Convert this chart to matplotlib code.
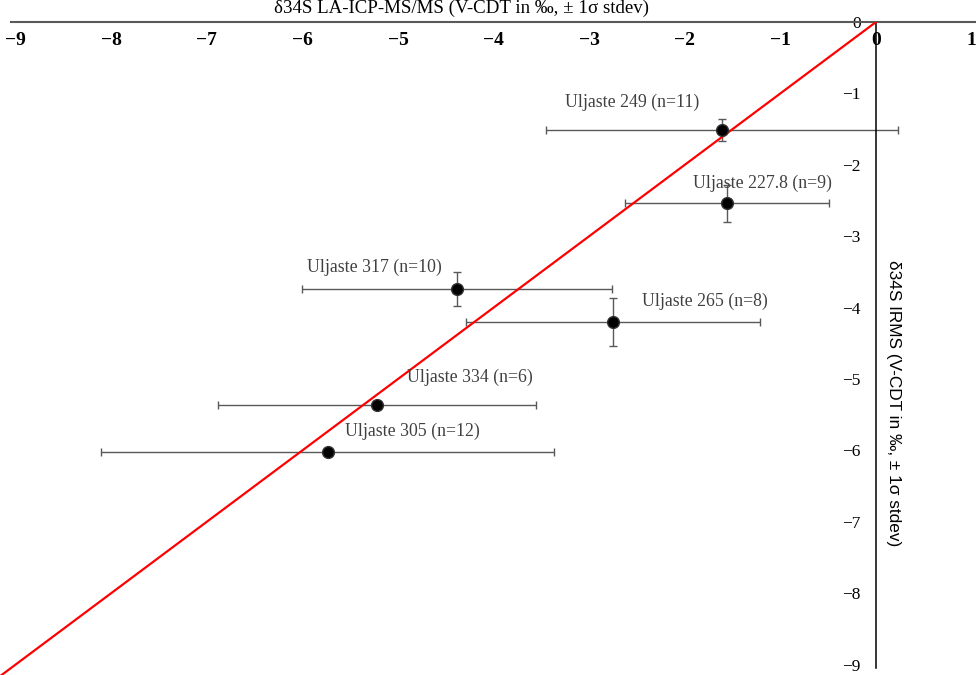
import matplotlib
matplotlib.use('Agg')
import matplotlib.pyplot as plt

# sample means and 1 sigma
samples = ["Uljaste 249 (n=11)", "Uljaste 227.8 (n=9)", "Uljaste 317 (n=10)",
           "Uljaste 265 (n=8)", "Uljaste 334 (n=6)", "Uljaste 305 (n=12)"]
la_icp = [-1.61, -1.56, -4.38, -2.75, -5.22, -5.735]
la_icp_sd = [1.84, 1.07, 1.62, 1.54, 1.66, 2.37]
irms = [-1.51, -2.54, -3.74, -4.20, -5.36, -6.02]
irms_sd = [0.15, 0.26, 0.24, 0.34, 0.0, 0.0]
one_to_one = [-10, 0]

xticks = list(range(-9, 2))
yticks = list(range(-9, 1))

# label offsets in pixels (dx, dy) from the point
label_off = [(-90, 27), (36, 20), (-83, 22), (92, 21), (93, 27), (85, 20)]

serif = 'Liberation Serif'

fig = plt.figure(figsize=(9.76, 6.75), dpi=100)
ax = fig.add_axes([0, 0, 1, 1 - 22 / 675])
ax.set_xlim(-9.163, 1.046)
ax.set_ylim(-9.146, 0)

ax.plot(one_to_one, one_to_one, color='#ff0000', lw=1.6, zorder=3)
ax.errorbar(la_icp, irms, xerr=la_icp_sd, yerr=irms_sd, fmt='none',
            ecolor='#595959', elinewidth=1, capsize=3, capthick=1, zorder=2)
ax.plot(la_icp, irms, 'o', color='black', markeredgecolor='#333333',
        markersize=8.5, zorder=4)

for name, x, y, (dx, dy) in zip(samples, la_icp, irms, label_off):
    ax.annotate(name, (x, y), xytext=(dx, dy), textcoords='offset pixels',
                ha='center', va='center', fontsize=12.8, family=serif,
                color='#404040', zorder=5)

# axes crossing at the origin
ax.spines['top'].set_visible(False)
ax.spines['right'].set_visible(False)
ax.spines['bottom'].set_position(('data', 0))
ax.spines['bottom'].set_bounds(-9.05, 1.046)
ax.spines['bottom'].set_color('#595959')
ax.spines['bottom'].set_linewidth(1.5)
ax.spines['left'].set_position(('data', 0))
ax.spines['left'].set_bounds(-9.05, 0)
ax.spines['left'].set_color('black')
ax.spines['left'].set_linewidth(1.1)

ax.set_xticks(xticks)
ax.set_yticks(yticks)
ax.set_xticklabels([str(t).replace('-', '\u2212') for t in xticks],
                   family=serif, fontsize=14, fontweight='bold')
ax.set_yticklabels([str(t).replace('-', '\u2212') for t in yticks],
                   family=serif, fontsize=12.5)
ax.tick_params(axis='x', length=0, pad=7)
ax.tick_params(axis='y', length=0, pad=11)

fig.text(461 / 976, 1 - 8 / 675, "\u03b434S LA-ICP-MS/MS (V-CDT in \u2030, \u00b1 1\u03c3 stdev)",
         ha='center', va='center', fontsize=13.6, family=serif)
fig.text(893 / 976, 1 - 403 / 675, "\u03b434S IRMS (V-CDT in \u2030, \u00b1 1\u03c3 stdev)",
         ha='center', va='center', rotation=-90, fontsize=12.4,
         family='Liberation Sans')

fig.savefig('out.png', dpi=100)
